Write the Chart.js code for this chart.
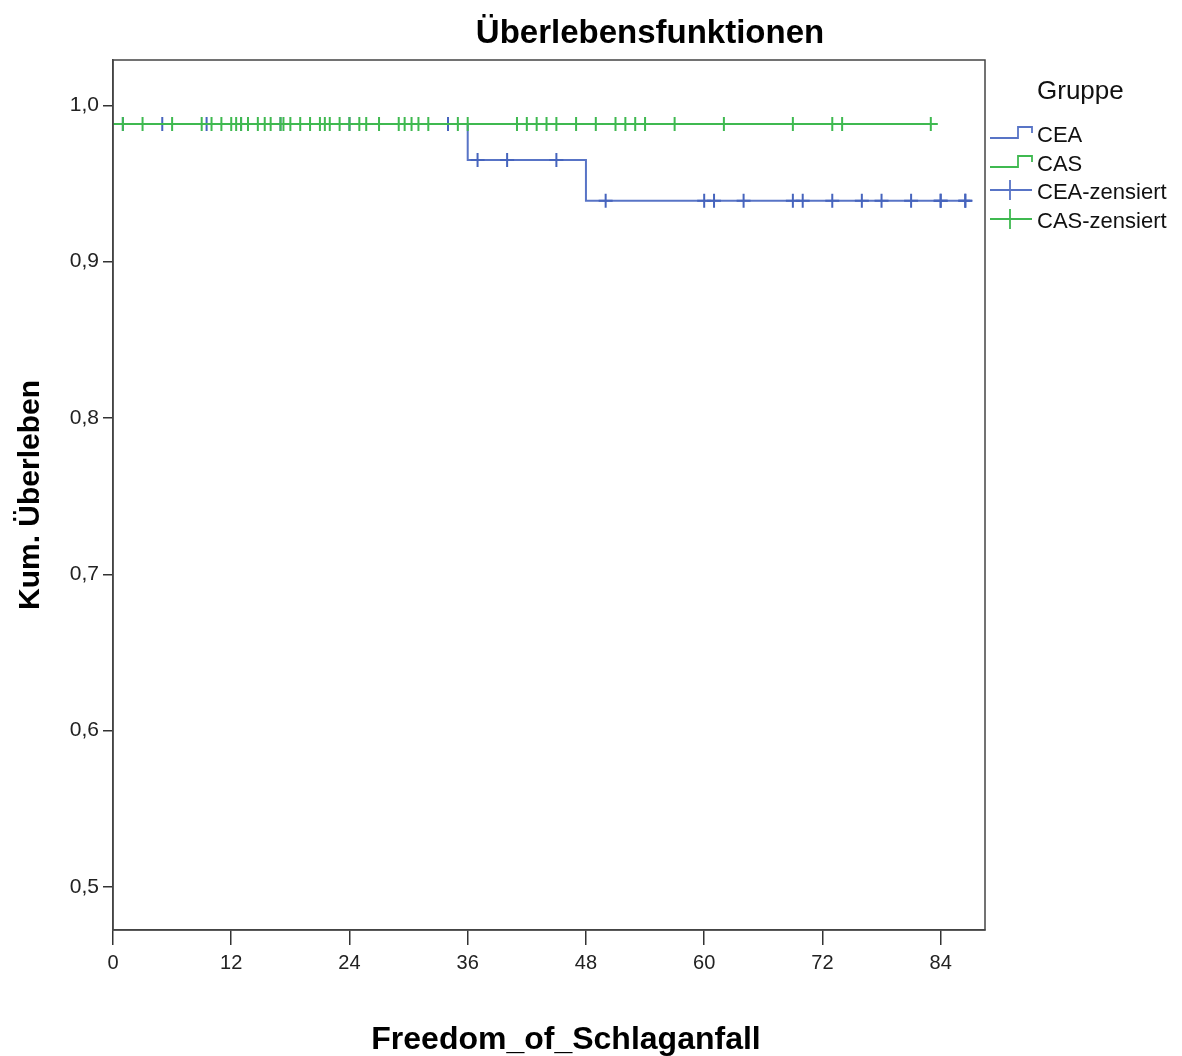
<!DOCTYPE html>
<html>
<head>
<meta charset="utf-8">
<script src="https://cdn.jsdelivr.net/npm/chart.js@4.4.1/dist/chart.umd.min.js"></script>
<style>
  body { margin: 0; background: #fff; font-family: "Liberation Sans", Arial, sans-serif; }
  #wrap { position: relative; width: 1182px; height: 1056px; }
  #title { position: absolute; left: 420px; width: 460px; top: 13px; text-align: center;
           font-weight: bold; font-size: 33px; line-height: 38px; color: #000; }
  #xtitle { position: absolute; left: 316px; width: 500px; top: 1020px; text-align: center;
            font-weight: bold; font-size: 32px; line-height: 36px; color: #000; }
  #legend { position: absolute; left: 988px; top: 75px; color: #111; }
  #legend .head { position: absolute; left: 49px; top: 0; font-size: 26px; line-height: 30px; white-space: nowrap; }
  #legend .row { position: absolute; left: 0; height: 28px; white-space: nowrap; }
  #legend .row svg { position: absolute; left: 0; top: 0; }
  #legend .row span { position: absolute; left: 49px; top: 0; font-size: 22px; line-height: 28px; }
</style>
</head>
<body>
<div id="wrap">
  <canvas id="km" width="1182" height="1056"></canvas>
  <div id="title">Überlebensfunktionen</div>
  <div id="xtitle">Freedom_of_Schlaganfall</div>
  <div id="legend"></div>
</div>
<script>
// Kaplan-Meier steps (time in months, cumulative survival)
const ceaTimes = [0, 36, 48, 87];
const ceaSurv = [0.988, 0.965, 0.939, 0.939];
const casTimes = [0, 83];
const casSurv = [0.988, 0.988];

// censored observations
const ceaCensored = [1, 5, 9.5, 13, 17, 24, 34, 37, 40, 45, 50, 60, 61, 64, 69, 70, 73, 76, 78, 81, 84, 84, 86.5, 86.5];
const casCensored = [1, 3, 6, 9, 10, 11, 12, 12.5, 13, 13.7, 14.7, 15.4, 16, 17, 17.3, 18, 19, 20, 21, 21.5, 22, 23,
                     24, 25, 25.7, 27, 29, 29.6, 30.3, 31, 32, 35, 36, 41, 42, 43, 44, 45, 47, 49, 51, 52, 53, 54,
                     57, 62, 69, 73, 74, 83];

const xTicks = [0, 12, 24, 36, 48, 60, 72, 84];
const yTicks = [0.5, 0.6, 0.7, 0.8, 0.9, 1.0];

const groups = ['CEA', 'CAS'];
const blue = '#5874c6';
const green = '#3fb950';

function survAt(times, surv, t) {
    let s = surv[0];
    for (let i = 0; i < times.length; i++) {
        if (times[i] <= t) s = surv[i];
    }
    return s;
}

const toPoints = (times, surv) => times.map((t, i) => ({ x: t, y: surv[i] }));
const censorPoints = (list, times, surv) => list.map(t => ({ x: t, y: survAt(times, surv, t) }));

const frame = {
    id: 'frame',
    afterDraw(chart) {
        const { ctx, chartArea: a } = chart;
        ctx.save();
        ctx.strokeStyle = '#444';
        ctx.lineWidth = 1.5;
        ctx.strokeRect(a.left, a.top, a.right - a.left, a.bottom - a.top);
        ctx.restore();
    }
};

new Chart(document.getElementById('km'), {
    type: 'line',
    data: {
        datasets: [
            { label: 'CAS', data: toPoints(casTimes, casSurv), stepped: true, borderColor: green,
              borderWidth: 2, pointRadius: 0, order: 1 },
            { label: 'CAS-zensiert', type: 'scatter', data: censorPoints(casCensored, casTimes, casSurv),
              pointStyle: 'cross', pointRadius: 7, borderColor: green, borderWidth: 2, order: 0 },
            { label: 'CEA', data: toPoints(ceaTimes, ceaSurv), stepped: true, borderColor: blue,
              borderWidth: 2, pointRadius: 0, order: 3 },
            { label: 'CEA-zensiert', type: 'scatter', data: censorPoints(ceaCensored, ceaTimes, ceaSurv),
              pointStyle: 'cross', pointRadius: 7, borderColor: '#4664bd', borderWidth: 2, order: 2 }
        ]
    },
    options: {
        responsive: false,
        animation: false,
        devicePixelRatio: 1,
        layout: { padding: { top: 60, right: 197, left: 0, bottom: 0 } },
        plugins: { legend: { display: false }, tooltip: { enabled: false } },
        scales: {
            x: {
                type: 'linear', min: 0, max: 88.5,
                afterBuildTicks: s => { s.ticks = xTicks.map(v => ({ value: v })); },
                afterFit: s => { s.height = 126; },
                grid: { drawOnChartArea: false, drawTicks: true, tickLength: 15, color: '#333', lineWidth: 1.5 },
                border: { display: true, color: '#444', width: 1.5 },
                ticks: { color: '#222', font: { family: 'Liberation Sans', size: 20 }, padding: 6 }
            },
            y: {
                type: 'linear', min: 0.4725, max: 1.029,
                afterBuildTicks: s => { s.ticks = yTicks.map(v => ({ value: v })); },
                afterFit: s => { s.width = 113; },
                grid: { drawOnChartArea: false, drawTicks: true, tickLength: 10, color: '#333', lineWidth: 1.5 },
                border: { display: true, color: '#444', width: 1.5 },
                ticks: {
                    color: '#222', font: { family: 'Liberation Sans', size: 21 }, padding: 4,
                    callback: v => v.toFixed(1).replace('.', ',')
                },
                title: {
                    display: true, text: 'Kum. Überleben', color: '#000',
                    font: { family: 'Liberation Sans', size: 30, weight: 'bold' },
                    padding: { top: 13, bottom: 0 }
                }
            }
        }
    },
    plugins: [frame]
});

// legend (Gruppe)
const legend = document.getElementById('legend');
const stepIcon = c => `<svg width="48" height="28"><path d="M2 17 H30 V6 H44 V12" fill="none" stroke="${c}" stroke-width="1.8"/></svg>`;
const crossIcon = c => `<svg width="48" height="28"><path d="M2 12 H44 M22 2 V22" fill="none" stroke="${c}" stroke-width="1.8"/></svg>`;
const rows = [
    { icon: stepIcon(blue), text: groups[0] },
    { icon: stepIcon(green), text: groups[1] },
    { icon: crossIcon(blue), text: groups[0] + '-zensiert' },
    { icon: crossIcon(green), text: groups[1] + '-zensiert' }
];
legend.innerHTML = '<div class="head">Gruppe</div>' + rows.map((r, i) =>
    `<div class="row" style="top:${46 + i * 28.5}px">${r.icon}<span>${r.text}</span></div>`
).join('');
</script>
</body>
</html>
